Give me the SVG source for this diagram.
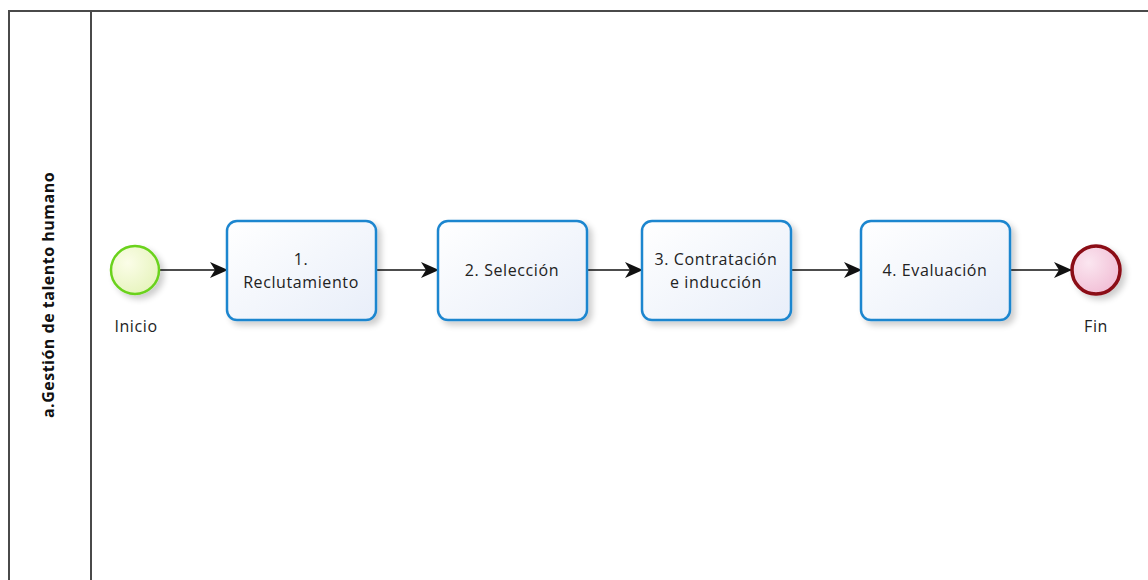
<svg xmlns="http://www.w3.org/2000/svg" width="1148" height="580" viewBox="0 0 1148 580">
<style>
.lane{fill:none;stroke:#4a4a4a;stroke-width:2}
.task{fill:url(#tg);stroke:#1f86cf;stroke-width:2.5}
.lbl{font-family:"Open Sans","DejaVu Sans",sans-serif;font-size:16px;letter-spacing:0.6px;fill:#222;text-anchor:middle}
.conn{stroke:#111;stroke-width:1.6;fill:none;marker-end:url(#ah)}
</style>
<defs>
<linearGradient id="tg" x1="0" y1="0" x2="1" y2="1"><stop offset="0" stop-color="#ffffff"/><stop offset="1" stop-color="#e8eef9"/></linearGradient>
<radialGradient id="sg" cx="0.35" cy="0.35" r="0.8"><stop offset="0" stop-color="#fbfde8"/><stop offset="1" stop-color="#e4f3b8"/></radialGradient>
<radialGradient id="eg" cx="0.35" cy="0.35" r="0.8"><stop offset="0" stop-color="#fbe6f0"/><stop offset="1" stop-color="#f0b9d2"/></radialGradient>
<filter id="sh" x="-20%" y="-20%" width="150%" height="150%"><feGaussianBlur in="SourceAlpha" stdDeviation="3"/><feOffset dx="4" dy="4"/><feComponentTransfer><feFuncA type="linear" slope="0.2"/></feComponentTransfer><feMerge><feMergeNode/><feMergeNode in="SourceGraphic"/></feMerge></filter>
<marker id="ah" viewBox="0 0 18 16" refX="17" refY="8" markerWidth="18" markerHeight="16" markerUnits="userSpaceOnUse" orient="auto"><path d="M0,0 L18,8 L0,16 L5,8 Z" fill="#111"/></marker>
</defs>
<g id="pool">
<rect class="lane" x="9" y="11" width="1150" height="580"/>
<line class="lane" x1="91" y1="11" x2="91" y2="580"/>
<text x="50" y="295" transform="rotate(-90 50 295)" font-family="'Open Sans','DejaVu Sans',sans-serif" font-size="16" letter-spacing="0.5" font-weight="bold" fill="#111" text-anchor="middle" dominant-baseline="middle">a.Gestión de talento humano</text>
</g>
<g id="connectors">
<line class="conn" x1="160" y1="270" x2="227" y2="270"/>
<line class="conn" x1="376" y1="270" x2="438" y2="270"/>
<line class="conn" x1="587" y1="270" x2="642" y2="270"/>
<line class="conn" x1="791" y1="270" x2="861" y2="270"/>
<line class="conn" x1="1010" y1="270" x2="1071" y2="270"/>
</g>
<g id="start">
<circle cx="135" cy="270" r="24" fill="url(#sg)" stroke="#6ad21c" stroke-width="2.5" filter="url(#sh)"/>
<text class="lbl" x="136" y="332">Inicio</text>
</g>
<g id="task1">
<rect class="task" x="227" y="221" width="149" height="99" rx="10" filter="url(#sh)"/>
<text class="lbl" x="301" y="265">1.</text>
<text class="lbl" x="301" y="288">Reclutamiento</text>
</g>
<g id="task2">
<rect class="task" x="438" y="221" width="149" height="99" rx="10" filter="url(#sh)"/>
<text class="lbl" x="512" y="276">2. Selección</text>
</g>
<g id="task3">
<rect class="task" x="642" y="221" width="149" height="99" rx="10" filter="url(#sh)"/>
<text class="lbl" x="716" y="265">3. Contratación</text>
<text class="lbl" x="716" y="288">e inducción</text>
</g>
<g id="task4">
<rect class="task" x="861" y="221" width="149" height="99" rx="10" filter="url(#sh)"/>
<text class="lbl" x="935" y="276">4. Evaluación</text>
</g>
<g id="end">
<circle cx="1096" cy="270" r="24" fill="url(#eg)" stroke="#8b0a14" stroke-width="3.5" filter="url(#sh)"/>
<text class="lbl" x="1096" y="332">Fin</text>
</g>
</svg>
